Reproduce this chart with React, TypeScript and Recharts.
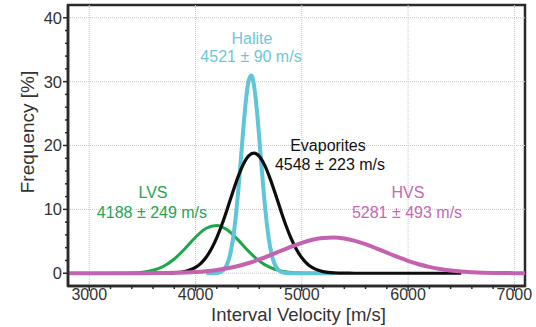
import React from 'react';
import { LineChart, Line, XAxis, YAxis, ReferenceLine, ReferenceArea, ReferenceDot } from 'recharts';

// ---- data ----
const hvsVelocity = [2800, 2900, 3000, 3100, 3200, 3300, 3400, 3500, 3600, 3700, 3800, 3900, 4000, 4100, 4200, 4300, 4400, 4500, 4600, 4700, 4800, 4900, 5000, 5100, 5200, 5300, 5400, 5500, 5600, 5700, 5800, 5900, 6000, 6100, 6200, 6300, 6400, 6500, 6600, 6700, 6800, 6900, 7000, 7100];
const hvsFreq = [0, 0, 0, 0, 0, 0, 0.01, 0.01, 0.02, 0.03, 0.06, 0.11, 0.19, 0.32, 0.51, 0.77, 1.13, 1.6, 2.16, 2.8, 3.48, 4.16, 4.76, 5.24, 5.53, 5.59, 5.44, 5.07, 4.54, 3.9, 3.22, 2.55, 1.93, 1.41, 0.99, 0.66, 0.43, 0.26, 0.16, 0.09, 0.05, 0.03, 0.01, 0];

const lvsVelocity = [3200, 3300, 3400, 3500, 3600, 3700, 3800, 3900, 4000, 4100, 4200, 4300, 4400, 4500, 4600, 4700, 4800, 4900, 5000, 5100, 5200];
const lvsFreq = [0, 0.01, 0.05, 0.17, 0.46, 1.1, 2.23, 3.84, 5.64, 7.05, 7.49, 6.78, 5.22, 3.42, 1.91, 0.91, 0.37, 0.13, 0.04, 0.01, 0];

const evaVelocity = [3600, 3700, 3800, 3900, 4000, 4050, 4100, 4150, 4200, 4250, 4300, 4350, 4400, 4450, 4500, 4550, 4600, 4650, 4700, 4750, 4800, 4850, 4900, 4950, 5000, 5050, 5100, 5150, 5200, 5300, 5400, 5500, 5600, 5700, 5800, 5900, 6000, 6100, 6200, 6300, 6400, 6500];
const evaFreq = [0, 0.01, 0.07, 0.28, 0.92, 1.55, 2.5, 3.82, 5.56, 7.7, 10.13, 12.68, 15.09, 17.07, 18.37, 18.8, 18.3, 16.93, 14.9, 12.48, 9.93, 7.52, 5.41, 3.7, 2.41, 1.49, 0.88, 0.49, 0.26, 0.06, 0.01, 0, 0, 0, 0, 0, 0, 0, 0, 0, 0, 0];

const haliteVelocity = [4100, 4150, 4200, 4225, 4250, 4275, 4300, 4325, 4350, 4375, 4400, 4425, 4450, 4475, 4500, 4525, 4550, 4575, 4600, 4625, 4650, 4675, 4700, 4725, 4750, 4775, 4800, 4825, 4850, 4900, 5000, 5100, 5200, 5300];
const haliteFreq = [0, 0.01, 0.05, 0.14, 0.33, 0.74, 1.52, 2.9, 5.1, 8.32, 12.56, 17.55, 22.71, 27.21, 30.17, 30.97, 29.43, 25.89, 21.09, 15.9, 11.1, 7.17, 4.29, 2.38, 1.22, 0.58, 0.25, 0.1, 0.04, 0.01, 0, 0, 0, 0];

const xMajorTicks = [3000, 4000, 5000, 6000, 7000];
const xAllTicks = [3000, 3200, 3400, 3600, 3800, 4000, 4200, 4400, 4600, 4800, 5000, 5200, 5400, 5600, 5800, 6000, 6200, 6400, 6600, 6800, 7000];
const yMajorTicks = [0, 10, 20, 30, 40];
const yAllTicks = [0, 2, 4, 6, 8, 10, 12, 14, 16, 18, 20, 22, 24, 26, 28, 30, 32, 34, 36, 38, 40];

const xDomain = [2800, 7100];
const yDomain = [-2, 42];

// annotation texts with anchor positions (data space)
const annotations = [
  { text: 'Halite', x: 4531, y: 36.8, color: '#6cc8d8' },
  { text: '4521 ± 90 m/s', x: 4522, y: 33.9, color: '#6cc8d8' },
  { text: 'Evaporites', x: 5246, y: 20.1, color: '#111111' },
  { text: '4548 ± 223 m/s', x: 5265, y: 17.1, color: '#111111' },
  { text: 'LVS', x: 3600, y: 12.6, color: '#26a555' },
  { text: '4188 ± 249 m/s', x: 3590, y: 9.6, color: '#26a555' },
  { text: 'HVS', x: 5999, y: 12.6, color: '#c46ab4' },
  { text: '5281 ± 493 m/s', x: 5990, y: 9.6, color: '#c46ab4' },
];

const zip = (xs: number[], ys: number[]) => xs.map((x, i) => ({ x, y: ys[i] }));
const hvsData = zip(hvsVelocity, hvsFreq);
const lvsData = zip(lvsVelocity, lvsFreq);
const evaData = zip(evaVelocity, evaFreq);
const haliteData = zip(haliteVelocity, haliteFreq);

const FONT = '"Liberation Sans", Arial, sans-serif';
const AXIS_COLOR = '#2a2a2a';
const TEXT_COLOR = '#333333';

const XTick = (props: any) => {
  const { x, y, payload } = props;
  const major = xMajorTicks.includes(payload.value);
  return (
    <g>
      <line x1={x} x2={x} y1={y} y2={y + (major ? 5 : 3)} stroke={AXIS_COLOR} strokeWidth={1.5} />
      {major && (
        <text x={x} y={y + 3} dy="0.71em" textAnchor="middle" fontSize={16} fill={TEXT_COLOR} fontFamily={FONT}>
          {payload.value}
        </text>
      )}
    </g>
  );
};

const YTick = (props: any) => {
  const { x, y, payload } = props;
  const major = yMajorTicks.includes(payload.value);
  return (
    <g>
      <line x1={x} x2={x - (major ? 5 : 3)} y1={y} y2={y} stroke={AXIS_COLOR} strokeWidth={1.5} />
      {major && (
        <text x={x - 6} y={y} dy="0.36em" textAnchor="end" fontSize={16.5} fill={TEXT_COLOR} fontFamily={FONT}>
          {payload.value}
        </text>
      )}
    </g>
  );
};

const XTitle = (props: any) => {
  const vb = props.viewBox || { x: 68, y: 286, width: 457, height: 41 };
  return (
    <text x={vb.x + vb.width / 2 + 2} y={vb.y + 35} textAnchor="middle" fontSize={18.5} fill={TEXT_COLOR} fontFamily={FONT}>
      Interval Velocity [m/s]
    </text>
  );
};

const YTitle = (props: any) => {
  const vb = props.viewBox || { x: 8, y: 5, width: 60, height: 281 };
  const cx = vb.x + 19;
  const cy = vb.y + 127;
  return (
    <text x={cx} y={cy} transform={`rotate(-90, ${cx}, ${cy})`} textAnchor="middle" dy="0.35em" fontSize={19} fill={TEXT_COLOR} fontFamily={FONT}>
      Frequency [%]
    </text>
  );
};

export default function App() {
  return (
    <div style={{ position: 'absolute', left: 0, top: 0, background: '#fff' }}>
      <LineChart width={536} height={327} margin={{ top: 5, right: 11, bottom: 0, left: 8 }} style={{ fontFamily: FONT }}>
        <XAxis
          dataKey="x"
          type="number"
          domain={xDomain}
          allowDataOverflow
          ticks={xAllTicks}
          interval={0}
          tickSize={0}
          tickMargin={0}
          tickLine={false}
          axisLine={{ stroke: AXIS_COLOR, strokeWidth: 2.5 }}
          tick={<XTick />}
          height={41}
          label={{ content: <XTitle /> }}
        />
        <YAxis
          type="number"
          domain={yDomain}
          allowDataOverflow
          ticks={yAllTicks}
          interval={0}
          tickSize={0}
          tickMargin={0}
          tickLine={false}
          axisLine={{ stroke: AXIS_COLOR, strokeWidth: 2.5 }}
          tick={<YTick />}
          width={60}
          label={{ content: <YTitle /> }}
        />
        {xMajorTicks.map((v) => (
          <ReferenceLine key={'gx' + v} x={v} stroke="#c6c6c6" strokeDasharray="1 1" strokeWidth={1} />
        ))}
        {yMajorTicks.map((v) => (
          <ReferenceLine key={'gy' + v} y={v} stroke="#c6c6c6" strokeDasharray="1 1" strokeWidth={1} />
        ))}
        <Line data={lvsData} dataKey="y" type="monotone" stroke="#1fa54b" strokeWidth={3} dot={false} isAnimationActive={false} />
        <Line data={haliteData} dataKey="y" type="monotone" stroke="#5ec6d6" strokeWidth={4} dot={false} isAnimationActive={false} />
        <Line data={evaData} dataKey="y" type="monotone" stroke="#0d0d0d" strokeWidth={3.2} dot={false} isAnimationActive={false} />
        <Line data={hvsData} dataKey="y" type="monotone" stroke="#c262b0" strokeWidth={4} dot={false} isAnimationActive={false} />
        <ReferenceArea x1={xDomain[0]} x2={xDomain[1]} y1={yDomain[0]} y2={yDomain[1]} fill="none" fillOpacity={0} stroke={AXIS_COLOR} strokeWidth={2.5} />
        {annotations.map((a, i) => (
          <ReferenceDot
            key={'a' + i}
            x={a.x}
            y={a.y}
            r={0}
            fill="none"
            stroke="none"
            label={{ value: a.text, position: 'center', fill: a.color, fontSize: 16, fontFamily: FONT }}
          />
        ))}
      </LineChart>
    </div>
  );
}
